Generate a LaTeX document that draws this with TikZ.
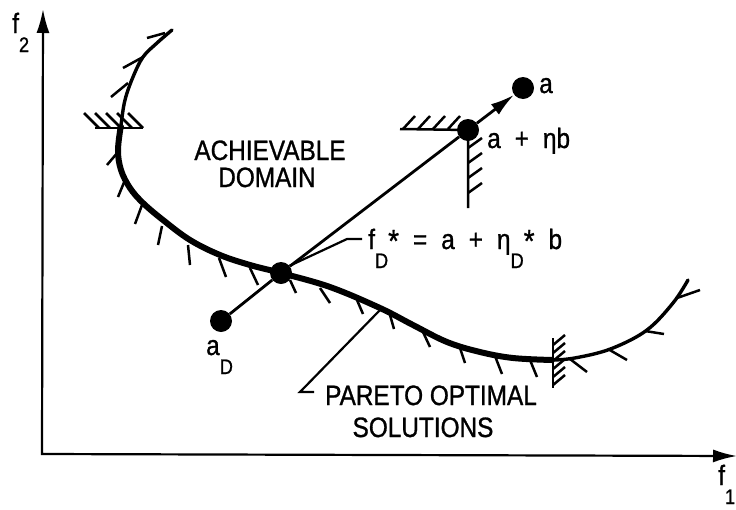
\documentclass[tikz,border=0pt]{standalone}
\usepackage{fontspec}
\setmainfont{Liberation Sans}[FakeStretch=0.87,FakeBold=1]
\usetikzlibrary{arrows.meta}
\newcommand\lettering{\fontsize{28}{27}\selectfont}
\newcommand\lowsub[1]{\raisebox{-19pt}{\fontsize{21}{21}\selectfont #1}}
\newcommand\starsup{\raisebox{-3pt}{\fontsize{32}{32}\selectfont *}}
\tikzset{
  >={Latex[length=24pt,width=13pt]},
  ptdot/.style={circle,fill=black,inner sep=0pt,minimum size=22pt},
  lbl/.style={inner sep=0pt,anchor=base west,font=\lettering},
  clbl/.style={inner sep=0pt,anchor=base,font=\lettering},
  axisline/.style={line width=2.2pt},
  rayline/.style={line width=2.8pt},
  frontier/.style={line width=3.4pt,line cap=round},
  frontierbold/.style={line width=6pt},
  hatchline/.style={line width=2.5pt},
  leader/.style={line width=2.2pt},
}

\begin{document}
\begin{tikzpicture}[x=1pt,y=-1pt]
  \useasboundingbox (0,0) rectangle (736,509);
  \coordinate (O) at (42,454);
  \coordinate (ytip) at (43,9);
  \coordinate (xtip) at (737,456);
  \draw[axisline,<->] (ytip) -- (O) -- (xtip);

  \draw[frontier]
    plot[smooth,tension=0.6] coordinates {(172,30) (157,43) (143,57) (133,77)
      (125,100) (121,125) (118,150) (121,170) (130,188) (143,203) (163,220)
      (190,240) (220,255) (250,265) (281,273) (330,287) (380,308) (413,325)
      (447,342) (480,352) (513,358) (552,360) (580,357) (613,348) (647,330)
      (673,303) (688,280)};
  \foreach \xa/\ya/\xb/\yb in {165/33/147/38, 143/57/123/68, 128/83/111/97,
      118/152/107/165, 125/180/118/197, 142/205/135/224, 162/226/158/245,
      188/245/190/265, 219/258/226/277, 250/268/258/285, 290/280/296/293,
      320/288/330/303, 357/300/363/314, 390/315/394/329, 423/332/430/347,
      460/348/465/363, 495/356/502/374, 530/360/537/377, 570/359/587/372,
      608/349/627/360, 645/331/664/334, 677/298/700/290}
    \draw[hatchline] (\xa,\ya) -- (\xb,\yb);
  \draw[frontierbold]
    plot[smooth,tension=0.6] coordinates {(121,125) (118,150) (121,170)
      (130,188) (143,203) (163,220) (190,240) (220,255) (250,265) (281,273)
      (330,287) (380,308) (413,325) (447,342) (480,352) (513,358) (552,360)};

  \draw[hatchline] (95,128) -- (143,128);
  \foreach \x in {84,95,106,117,128} \draw[hatchline] (\x,113) -- ++(15,15);
  \draw[hatchline] (553,338) -- (553,388);
  \foreach \y in {345,353,361,369,377,385} \draw[hatchline] (553,\y) -- ++(12,-10);

  \node[ptdot] (aD) at (221,321) {};
  \node[ptdot] (fD) at (281,273) {};
  \node[ptdot] (anb) at (468,130) {};
  \node[ptdot] (a) at (523,88) {};
  \draw[rayline] (aD) -- (fD) -- (anb);
  \draw[rayline,->] (anb) -- (a);

  \draw[hatchline] (400,129) -- (anb.center) -- ++(0,78);
  \foreach \x in {403,418,433,448} \draw[hatchline] (\x,129) -- ++(12,-13);
  \foreach \y in {148,163,178,193} \draw[hatchline] (468,\y) -- ++(14,-10);

  \coordinate (fDknee) at (347,239);
  \coordinate (fDend) at (362,239);
  \draw[leader] (fD.40) -- (fDknee) -- (fDend);
  \coordinate (po) at (381,309);
  \coordinate (poknee) at (300,392);
  \coordinate (poend) at (314,392);
  \draw[leader] (po) -- (poknee) -- (poend);

  \node[lbl] (f2lbl) at (12,33) {f\lowsub{2}};
  \node[lbl] (f1lbl) at (718,485) {f\lowsub{1}};
  \node[lbl] (albl) at (539,93) {a};
  \node[lbl] (anblbl) at (487,148) {a\enspace+\enspace ηb};
  \node[lbl] (fDlbl) at (368,249) {f\lowsub{D}\starsup\enspace=\enspace a\enspace+\enspace η\lowsub{D}\starsup\enspace b};
  \node[lbl] (aDlbl) at (206,355) {a\lowsub{D}};
  \node[clbl] (achlbl) at (270,160) {ACHIEVABLE};
  \node[clbl] (domlbl) at (267,187) {DOMAIN};
  \node[clbl] (parlbl) at (431,405) {PARETO OPTIMAL};
  \node[clbl] (sollbl) at (423,437) {SOLUTIONS};
\end{tikzpicture}
\end{document}
